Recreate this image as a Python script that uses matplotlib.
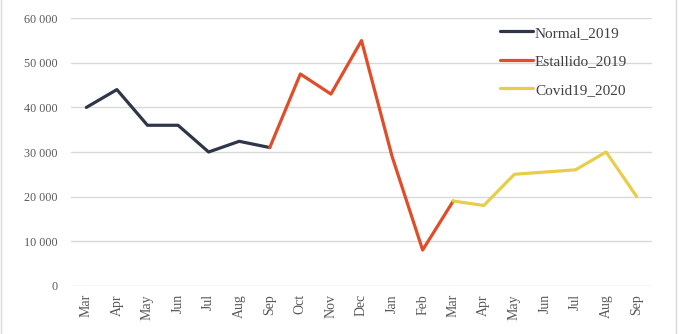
import matplotlib
matplotlib.use("Agg")
import matplotlib.pyplot as plt
from matplotlib.ticker import FuncFormatter
from matplotlib.lines import Line2D

months = ['Mar', 'Apr', 'May', 'Jun', 'Jul', 'Aug', 'Sep', 'Oct', 'Nov', 'Dec',
          'Jan', 'Feb', 'Mar', 'Apr', 'May', 'Jun', 'Jul', 'Aug', 'Sep']

# indices on the category axis for each series
normal_idx = [0, 1, 2, 3, 4, 5, 6]
normal_2019 = [40000, 44000, 36000, 36000, 30000, 32400, 31000]

estallido_idx = [6, 7, 8, 9, 10, 11, 12]
estallido_2019 = [31000, 47500, 43000, 55000, 29000, 8000, 19000]

covid_idx = [12, 13, 14, 15, 16, 17, 18]
covid19_2020 = [19000, 18000, 25000, 25500, 26000, 30000, 20000]

plt.rcParams['font.family'] = ['Liberation Serif', 'DejaVu Serif']

fig = plt.figure(figsize=(6.79, 3.34), dpi=100)
ax = fig.add_axes([0.1046, 0.1446, 0.8556, 0.8006])

lw = 2.3
ax.plot(normal_idx, normal_2019, color='#2F3649', lw=lw, label='Normal_2019',
        solid_capstyle='round', solid_joinstyle='round')
ax.plot(estallido_idx, estallido_2019, color='#E04D28', lw=lw, label='Estallido_2019',
        solid_capstyle='round', solid_joinstyle='round')
ax.plot(covid_idx, covid19_2020, color='#E6CE4A', lw=lw, label='Covid19_2020',
        solid_capstyle='round', solid_joinstyle='round')

ax.set_xlim(-0.5, len(months) - 0.5)
ax.set_ylim(0, 60000)
ax.set_yticks(range(0, 60001, 10000))
ax.yaxis.set_major_formatter(FuncFormatter(lambda v, p: f'{int(v):,}'.replace(',', ' ')))
ax.set_xticks(range(len(months)))
ax.set_xticklabels(months, rotation=90)

ax.grid(axis='y', color='#D9D9D9', lw=1)
ax.set_axisbelow(True)
for s in ax.spines.values():
    s.set_visible(False)
ax.tick_params(axis='both', length=0, colors='#595959')
ax.tick_params(axis='y', pad=10, labelsize=8.7)
ax.tick_params(axis='x', pad=6, labelsize=10)

leg = ax.legend(loc='upper left', bbox_to_anchor=(0.736, 0.922),
                bbox_transform=fig.transFigure, frameon=False, fontsize=11,
                handlelength=2.15, handletextpad=0.15, labelspacing=0.97,
                borderpad=0, borderaxespad=0)
for t in leg.get_texts():
    t.set_color('#404040')

# light chart border
fig.add_artist(Line2D([0.002, 0.002], [0, 1], color='#D9D9D9', lw=1, transform=fig.transFigure))
fig.add_artist(Line2D([0.995, 0.995], [0, 1], color='#D9D9D9', lw=1, transform=fig.transFigure))

fig.savefig('out.png', dpi=100)
